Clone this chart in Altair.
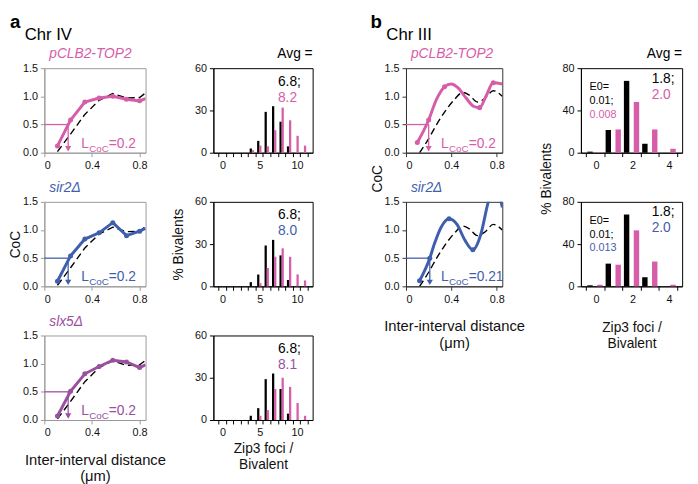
import altair as alt
import pandas as pd

FONT = "Liberation Sans"
PINK = "#D65DA8"
BLUE = "#3F5EAE"
PURPLE = "#9A4F9F"
GRAY = "#9a9a9a"

# ---------------- data ----------------
# Chr IV (panel a) coefficient of coincidence curves
a_x = [0.11, 0.22, 0.34, 0.46, 0.575, 0.69, 0.80, 0.85]
a_wt = [0.02, 0.33, 0.68, 0.93, 1.05, 0.97, 0.98, 1.06]
a_top2 = [0.12, 0.58, 0.90, 0.97, 1.00, 0.95, 0.92, 0.96]
a_sir2 = [0.09, 0.54, 0.84, 0.95, 1.13, 0.90, 0.98, 1.03]
a_slx5 = [0.07, 0.51, 0.82, 0.95, 1.06, 1.03, 0.93, 0.98]

# Chr III (panel b) coefficient of coincidence curves
b_wt_x = [0.12, 0.20, 0.27, 0.34, 0.43, 0.50, 0.56, 0.63, 0.70, 0.77, 0.85]
b_wt = [0.00, 0.25, 0.50, 0.72, 0.95, 1.07, 1.02, 0.90, 0.97, 1.10, 1.00]
b_top2_x = [0.10, 0.20, 0.27, 0.34, 0.40, 0.46, 0.53, 0.60, 0.65, 0.71, 0.77, 0.85]
b_top2 = [0.18, 0.58, 0.95, 1.17, 1.22, 1.15, 0.97, 0.82, 0.80, 1.02, 1.24, 1.22]
b_sir2_x = [0.12, 0.21, 0.25, 0.31, 0.38, 0.45, 0.52, 0.59, 0.66, 0.72, 0.78, 0.85]
b_sir2 = [0.10, 0.50, 0.75, 1.05, 1.20, 1.10, 0.82, 0.65, 0.92, 1.45, 1.85, 1.40]

# Zip3 foci per bivalent histograms (% bivalents)
a_cats = list(range(12))
a_wt_pct = [0, 0, 0, 0, 3.0, 8.4, 29, 33, 22, 4.5, 0, 0]
a_top2_pct = [0, 0, 0, 0, 1.8, 5.0, 4.5, 16, 32, 23, 12, 5.0]
a_sir2_pct = [0, 0, 0, 0, 0, 2.2, 13, 21, 27, 21, 8.5, 4.2]
a_slx5_pct = [0, 0, 0, 0, 0, 3.0, 7.0, 22, 30, 23.5, 12, 3.0]

b_cats = list(range(5))
b_wt_pct = [1.0, 21.5, 68, 8.5, 0]
b_top2_pct = [0.5, 22, 48, 22, 3.7]
b_sir2_pct = [1.5, 20.5, 53, 23.5, 1.5]

avg_wt_a, avg_top2_a, avg_sir2_a, avg_slx5_a = "6.8;", "8.2", "8.0", "8.1"
avg_wt_b, avg_top2_b, avg_sir2_b = "1.8;", "2.0", "2.0"
e0_wt_b, e0_top2_b, e0_sir2_b = "0.01;", "0.008", "0.013"

# ---------------- layout sizes (px) ----------------
COC_W, HIST_A_W, COC_B_W, HIST_B_W, ROW_H = 103, 101, 98, 103, 86
GAP1, GAP2, GAP3 = 69, 95, 80


def coc_panel(xs, ys, wxs, wys, dots, color, title, lcoc, lval, frame, interp,
              width, ytitle=None, ytitle_y=None, xtitle=None):
    line_df = pd.DataFrame({"x": xs, "y": ys})
    wt_df = pd.DataFrame({"x": wxs, "y": wys})
    dot_df = line_df.iloc[dots]
    xa = dict(values=[0, 0.4, 0.8],
              labelExpr="datum.value == 0 ? '0' : format(datum.value, '.1f')",
              domainColor=frame, tickColor=frame, labelPadding=3)
    if xtitle:
        xa["title"] = xtitle
        xa["titlePadding"] = 15
        xa["titleFontSize"] = 15
    else:
        xa["title"] = None
    ya = dict(values=[0, 0.5, 1.0, 1.5], format=".1f", domainColor=frame,
              tickColor=frame, labelPadding=3, titlePadding=0)
    if ytitle:
        ya["title"] = ytitle
        if ytitle_y is not None:
            ya["titleY"] = ytitle_y
    else:
        ya["title"] = None
    X = alt.X("x:Q", scale=alt.Scale(domain=[0, 0.85], nice=False, zero=False),
              axis=alt.Axis(**xa))
    Y = alt.Y("y:Q", scale=alt.Scale(domain=[0, 1.5], nice=False, zero=False),
              axis=alt.Axis(**ya))
    wt = alt.Chart(wt_df).mark_line(color="black", strokeWidth=1.4, strokeDash=[7, 4],
                                    interpolate=interp, clip=True).encode(x=X, y=Y)
    ln = alt.Chart(line_df).mark_line(color=color, strokeWidth=3, interpolate=interp,
                                      clip=True).encode(x=X, y=Y)
    dt = alt.Chart(dot_df).mark_circle(color=color, size=26, opacity=1).encode(x=X, y=Y)
    thr = pd.DataFrame({"x": [0.0], "x2": [lcoc], "y": [0.5]})
    hl = alt.Chart(thr).mark_rule(color=color, strokeWidth=1.3).encode(
        x=X, x2=alt.X2("x2:Q"), y=Y)
    arr = pd.DataFrame({"x": [lcoc], "y": [0.5], "y2": [0.09]})
    vl = alt.Chart(arr).mark_rule(color=color, strokeWidth=1.3).encode(
        x=X, y=Y, y2=alt.Y2("y2:Q"))
    head = alt.Chart(pd.DataFrame({"x": [lcoc], "y": [0.07]})).mark_point(
        shape="triangle-down", filled=True, size=40, color=color, opacity=1).encode(x=X, y=Y)
    pos = pd.DataFrame({"x": [0.31], "y": [0.09]})
    tL = alt.Chart(pos).mark_text(text="L", align="left", baseline="alphabetic",
                                  fontSize=14, color=color).encode(x=X, y=Y)
    tC = alt.Chart(pos).mark_text(text="CoC", align="left", baseline="alphabetic",
                                  fontSize=10, dx=8, dy=4, color=color).encode(x=X, y=Y)
    tV = alt.Chart(pos).mark_text(text="=" + lval, align="left", baseline="alphabetic",
                                  fontSize=14, dx=28, color=color).encode(x=X, y=Y)
    return alt.layer(wt, ln, dt, hl, vl, head, tL, tC, tV).properties(
        width=width, height=ROW_H,
        title=alt.Title(title, anchor="start", frame="group", fontStyle="italic",
                        color=color, fontSize=14, fontWeight="normal", dx=5, offset=1),
        view=alt.ViewBackground(stroke=frame, strokeWidth=1))


def hist_panel(cats, wt, mut, color, ymax, yvals, labels, off, barw, width, texts,
               title=None, ytitle=None, ytitle_y=None, xtitle=None, xtitle_pad=6):
    n = len(cats)
    df = pd.DataFrame({"cat": cats * 2, "pct": wt + mut, "s": ["wt"] * n + ["mut"] * n})
    bounds = [c - 0.5 for c in cats] + [cats[-1] + 0.5]
    expr = " : ".join(f"datum.value == {b - 0.5} ? '{lab}'" for b, lab in labels) + " : ''"
    xa = dict(values=bounds, labelExpr=expr, labelOffset=width / n / 2, labelPadding=3,
              domainColor="black", tickColor="black", labelOverlap=False)
    if xtitle:
        xa["title"] = xtitle
        xa["titlePadding"] = xtitle_pad
    else:
        xa["title"] = None
    ya = dict(values=yvals, domainColor="black", tickColor="black", labelPadding=3,
              titlePadding=9)
    if ytitle:
        ya["title"] = ytitle
        if ytitle_y is not None:
            ya["titleY"] = ytitle_y
    else:
        ya["title"] = None
    X = alt.X("xp:Q", scale=alt.Scale(domain=[cats[0] - 0.5, cats[-1] + 0.5], nice=False,
                                      zero=False), axis=alt.Axis(**xa))
    Y = alt.Y("pct:Q", scale=alt.Scale(domain=[0, ymax], nice=False), axis=alt.Axis(**ya))
    bars = alt.Chart(df).transform_calculate(
        xp=f"datum.cat + (datum.s == 'wt' ? {-off} : {off})"
    ).mark_bar(width=barw).encode(
        x=X, y=Y,
        color=alt.Color("s:N", scale=alt.Scale(domain=["wt", "mut"], range=["black", color]),
                        legend=None))
    layers = [bars]
    for (tx, ty, s, c, fs) in texts:
        layers.append(alt.Chart(pd.DataFrame({"xp": [tx], "pct": [ty]})).mark_text(
            text=s, color=c, fontSize=fs, align="left", baseline="middle").encode(x=X, y=Y))
    props = dict(width=width, height=ROW_H,
                 view=alt.ViewBackground(stroke="black", strokeWidth=1))
    if title:
        props["title"] = alt.Title(title, anchor="end", frame="group", fontSize=14,
                                   fontWeight="normal", offset=1, color="black")
    return alt.layer(*layers).properties(**props)


def spacer(width, height, title=None):
    c = alt.Chart(pd.DataFrame({"v": [0]})).mark_point(opacity=0).encode(
        x=alt.value(0), y=alt.value(0))
    props = dict(width=width, height=height, view=alt.ViewBackground(strokeOpacity=0))
    if title is not None:
        props["title"] = title
    return c.properties(**props)


def label_title(text, size, bold, dx):
    return alt.Title(text, orient="bottom", anchor="start", frame="group", fontSize=size,
                     fontWeight="bold" if bold else "normal", dx=dx, offset=0,
                     dy=-8 if bold else 7, color="black")


# ---------------- panel a (Chr IV) ----------------
dots_a = [0, 1, 2, 3, 4, 5, 6]
cA1 = coc_panel(a_x, a_top2, a_x, a_wt, dots_a, PINK, "pCLB2-TOP2", 0.2, "0.2", GRAY,
                "linear", COC_W)
cA2 = coc_panel(a_x, a_sir2, a_x, a_wt, dots_a, BLUE, "sir2Δ", 0.2, "0.2", GRAY,
                "linear", COC_W, ytitle="CoC")
cA3 = coc_panel(a_x, a_slx5, a_x, a_wt, dots_a, PURPLE, "slx5Δ", 0.2, "0.2", GRAY,
                "linear", COC_W, xtitle=["Inter-interval distance", "(μm)"])

lab_a = [(0, "0"), (5, "5"), (10, "10")]
txt_a = lambda val, col: [(7.5, 50.5, avg_wt_a, "black", 14), (7.5, 39, val, col, 14)]
hA1 = hist_panel(a_cats, a_wt_pct, a_top2_pct, PINK, 60, [0, 30, 60], lab_a, 0.14, 2.3,
                 HIST_A_W, txt_a(avg_top2_a, PINK), title="Avg =")
hA2 = hist_panel(a_cats, a_wt_pct, a_sir2_pct, BLUE, 60, [0, 30, 60], lab_a, 0.14, 2.3,
                 HIST_A_W, txt_a(avg_sir2_a, BLUE), ytitle="% Bivalents")
hA3 = hist_panel(a_cats, a_wt_pct, a_slx5_pct, PURPLE, 60, [0, 30, 60], lab_a, 0.14, 2.3,
                 HIST_A_W, txt_a(avg_slx5_a, PURPLE), xtitle=["Zip3 foci /", "Bivalent"],
                 xtitle_pad=4)

# ---------------- panel b (Chr III) ----------------
cB1 = coc_panel(b_top2_x, b_top2, b_wt_x, b_wt, [0, 1, 3, 8, 10], PINK, "pCLB2-TOP2", 0.2,
                "0.2", "#333333", "monotone", COC_B_W, ytitle="CoC", ytitle_y=112)
cB2 = coc_panel(b_sir2_x, b_sir2, b_wt_x, b_wt, [0, 1, 4, 7], BLUE, "sir2Δ", 0.21, "0.21",
                "#333333", "monotone", COC_B_W, xtitle=["Inter-interval distance", "(μm)"])

lab_b = [(0, "0"), (2, "2"), (4, "4")]
txt_b = lambda val, e0, col: [
    (3.1, 70, avg_wt_b, "black", 14), (3.1, 55, val, col, 14),
    (-0.3, 62, "E0=", "black", 11), (-0.3, 49, e0_wt_b, "black", 11),
    (-0.3, 36, e0, col, 11)]
hB1 = hist_panel(b_cats, b_wt_pct, b_top2_pct, PINK, 80, [0, 40, 80], lab_b, 0.27, 5.5,
                 HIST_B_W, txt_b(avg_top2_b, e0_top2_b, PINK),
                 title="Avg =", ytitle="% Bivalents", ytitle_y=112)
hB2 = hist_panel(b_cats, b_wt_pct, b_sir2_pct, BLUE, 80, [0, 40, 80], lab_b, 0.27, 5.5,
                 HIST_B_W, txt_b(avg_sir2_b, e0_sir2_b, BLUE),
                 xtitle=["Zip3 foci /", "Bivalent"], xtitle_pad=17)

# ---------------- grid: 7 columns (panels + gaps), 4 rows ----------------
row0 = [
    spacer(COC_W, 1, label_title("a", 19, True, -35)),
    spacer(GAP1, 1, label_title("Chr IV", 17, False, -123)),
    spacer(HIST_A_W, 1),
    spacer(GAP2, 1, label_title("b", 19, True, 59)),
    spacer(COC_B_W, 1, label_title("Chr III", 17, False, -20)),
    spacer(GAP3, 1),
    spacer(HIST_B_W, 1),
]
row1 = [cA1, spacer(GAP1, ROW_H), hA1, spacer(GAP2, ROW_H), cB1, spacer(GAP3, ROW_H), hB1]
row2 = [cA2, spacer(GAP1, ROW_H), hA2, spacer(GAP2, ROW_H), cB2, spacer(GAP3, ROW_H), hB2]
row3 = [cA3, spacer(GAP1, ROW_H), hA3, spacer(GAP2, ROW_H), spacer(COC_B_W, ROW_H),
        spacer(GAP3, ROW_H), spacer(HIST_B_W, ROW_H)]

chart = alt.concat(*(row0 + row1 + row2 + row3), columns=7,
                   spacing={"row": 50, "column": 0}, bounds="flush").properties(
    padding={"left": 0, "top": 0, "right": 2, "bottom": 2}
).configure_axis(
    labelFont=FONT, titleFont=FONT, labelFontSize=11, titleFontSize=14,
    titleFontWeight="normal", labelColor="#111111", titleColor="#111111", grid=False,
    tickSize=4
).configure_title(font=FONT).configure_text(font=FONT)

chart.save("out.html", embed_options={"renderer": "svg", "actions": False})
